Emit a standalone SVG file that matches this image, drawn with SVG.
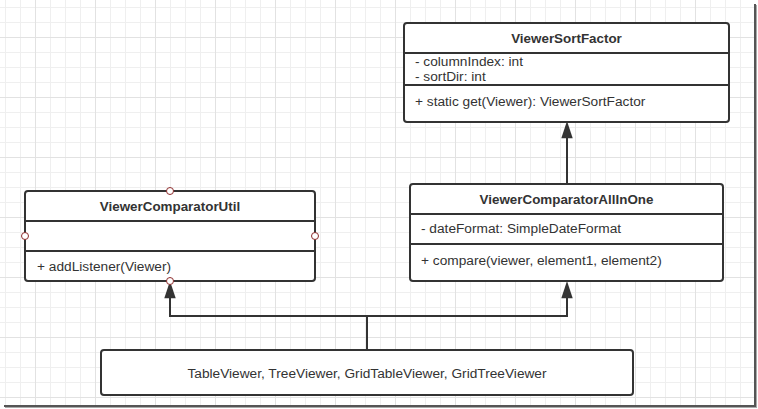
<svg xmlns="http://www.w3.org/2000/svg" width="758" height="409" viewBox="0 0 758 409">
<style>
.box{fill:#fff;stroke:#333;stroke-width:2}
.sep{stroke:#333;stroke-width:2}
.t{font-family:"Liberation Sans",Arial,sans-serif;font-size:13.7px;fill:#333}
.b{font-family:"Liberation Sans",Arial,sans-serif;font-size:13.4px;font-weight:bold;fill:#333;text-anchor:middle}
.c{text-anchor:middle}
.conn{fill:none;stroke:#333;stroke-width:2}
.port{fill:#fff;stroke:#8e2c2c;stroke-width:1}
</style>
<defs>
<pattern id="grid" patternUnits="userSpaceOnUse" x="35" y="37" width="60" height="60">
<path d="M15.5,0V60M30.5,0V60M45.5,0V60M0,15.5H60M0,30.5H60M0,45.5H60" stroke="#efefef" stroke-width="1" fill="none"/>
<path d="M0.5,0V60M0,0.5H60" stroke="#e2e2e2" stroke-width="1" fill="none"/>
</pattern>
<marker id="arr" markerUnits="userSpaceOnUse" markerWidth="16" markerHeight="12" viewBox="0 0 14 10" refX="0" refY="5" orient="auto" overflow="visible">
<path d="M-1,0L14,5L-1,10Z" fill="#333"/>
</marker>
</defs>
<rect x="0" y="0" width="758" height="409" fill="#fff"/>
<rect x="0" y="0" width="754" height="405" fill="url(#grid)"/>
<rect x="754" y="4" width="2" height="403" fill="#555"/>
<rect x="756" y="5" width="1" height="403" fill="#aaa"/>
<rect x="4" y="405" width="752" height="2" fill="#555"/>
<rect x="5" y="407" width="752" height="1" fill="#aaa"/>
<g id="connectors">
<path class="conn" d="M367,350V316H170V297" marker-end="url(#arr)"/>
<path class="conn" d="M367,316H567V297" marker-end="url(#arr)"/>
<path class="conn" d="M567,184V137" marker-end="url(#arr)"/>
</g>
<g id="ViewerSortFactor">
<rect class="box" x="404" y="23" width="325" height="99" rx="3"/>
<line class="sep" x1="404" y1="53" x2="729" y2="53"/>
<line class="sep" x1="404" y1="85" x2="729" y2="85"/>
<text class="b" x="566.5" y="43">ViewerSortFactor</text>
<text class="t" x="415" y="66">- columnIndex: int</text>
<text class="t" x="415" y="81">- sortDir: int</text>
<text class="t" x="415" y="106">+ static get(Viewer): ViewerSortFactor</text>
</g>
<g id="ViewerComparatorUtil">
<rect class="box" x="25" y="191" width="290" height="90" rx="3"/>
<line class="sep" x1="25" y1="221" x2="315" y2="221"/>
<line class="sep" x1="25" y1="251" x2="315" y2="251"/>
<text class="b" x="170" y="211">ViewerComparatorUtil</text>
<text class="t" x="37" y="271">+ addListener(Viewer)</text>
<circle class="port" cx="170" cy="191" r="3.5"/>
<circle class="port" cx="25" cy="236" r="3.5"/>
<circle class="port" cx="315" cy="236" r="3.5"/>
<circle class="port" cx="170" cy="281" r="3.5"/>
</g>
<g id="ViewerComparatorAllInOne">
<rect class="box" x="410" y="184" width="313" height="97" rx="3"/>
<line class="sep" x1="410" y1="214" x2="723" y2="214"/>
<line class="sep" x1="410" y1="244" x2="723" y2="244"/>
<text class="b" x="566.5" y="204">ViewerComparatorAllInOne</text>
<text class="t" x="421" y="233">- dateFormat: SimpleDateFormat</text>
<text class="t" x="421" y="265">+ compare(viewer, element1, element2)</text>
</g>
<g id="Viewers">
<rect class="box" x="101" y="350" width="532" height="45" rx="3"/>
<text class="t c" x="367" y="378">TableViewer, TreeViewer, GridTableViewer, GridTreeViewer</text>
</g>
</svg>
